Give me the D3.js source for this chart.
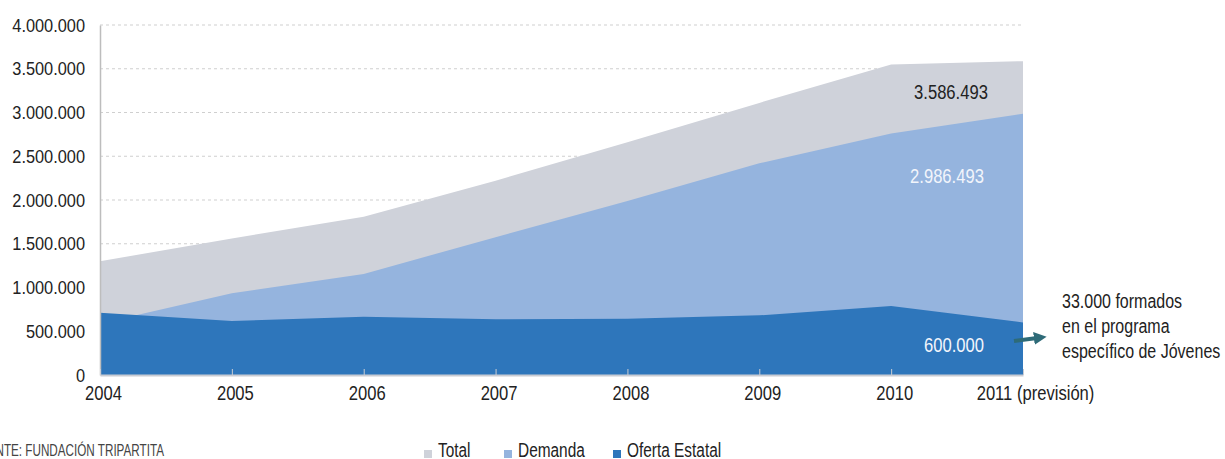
<!DOCTYPE html>
<html>
<head>
<meta charset="utf-8">
<script src="https://cdn.jsdelivr.net/npm/d3@7"></script>
<style>
  html, body { margin: 0; padding: 0; background: #fff; }
  svg { display: block; }
  text { font-family: "Liberation Sans", Arial, sans-serif; }
</style>
</head>
<body>
<svg id="chart" width="1225" height="459"></svg>
<script>
// ---- data ----
const years = ["2004", "2005", "2006", "2007", "2008", "2009", "2010", "2011 (previsión)"];
const total   = [1300000, 1560000, 1810000, 2220000, 2660000, 3110000, 3550000, 3586493];
const demanda = [590000, 935000, 1155000, 1575000, 1990000, 2420000, 2760000, 2986493];
const oferta  = [712000, 617000, 666000, 636000, 643000, 682000, 789000, 600000];
const yTicks  = [0, 500000, 1000000, 1500000, 2000000, 2500000, 3000000, 3500000, 4000000];
const seriesNames = ["Total", "Demanda", "Oferta Estatal"];
const annotationLines = ["33.000 formados", "en el programa", "específico de Jóvenes"];
const sourceText = "FUENTE: FUNDACIÓN TRIPARTITA";

// ---- setup ----
const colors = { "Total": "#CFD2DA", "Demanda": "#95B4DE", "Oferta Estatal": "#2E76BB" };
const svg = d3.select("#chart");
const x0 = 100, x1 = 1023, yTop = 25, yBot = 375;

const x = d3.scalePoint().domain(years).range([x0, x1]);
const y = d3.scaleLinear().domain([0, 4000000]).range([yBot, yTop]);

const fmt = v => d3.format(",")(v).replace(/,/g, ".");

// condense text horizontally (reference uses a condensed face)
function squeeze(sel, f) {
  sel.each(function () {
    const w = this.getComputedTextLength();
    this.setAttribute("textLength", (w * f).toFixed(1));
    this.setAttribute("lengthAdjust", "spacingAndGlyphs");
  });
}

// gridlines
svg.append("g").selectAll("line").data(yTicks.filter(d => d > 0)).join("line")
  .attr("x1", x0).attr("x2", x1)
  .attr("y1", d => y(d)).attr("y2", d => y(d))
  .attr("stroke", "#cfcfcf").attr("stroke-width", 1).attr("stroke-dasharray", "3,3");

// areas (overlapping, not stacked)
const area = arr => d3.area()
  .x((d, i) => x(years[i]))
  .y0(y(0))
  .y1(d => y(d))(arr);

svg.append("path").attr("d", area(total)).attr("fill", colors["Total"]);
svg.append("path").attr("d", area(demanda)).attr("fill", colors["Demanda"]);
svg.append("path").attr("d", area(oferta)).attr("fill", colors["Oferta Estatal"]);

// y axis
const yAxis = svg.append("g").attr("transform", `translate(${x0},0)`)
  .call(d3.axisLeft(y).tickValues(yTicks).tickFormat(fmt).tickSize(0).tickPadding(15));
yAxis.select(".domain").attr("stroke", "#bdbdbd").attr("stroke-width", 1.5);
yAxis.selectAll("text").attr("font-size", 19).attr("fill", "#222").call(squeeze, 0.86);

// x axis
const xAxis = svg.append("g").attr("transform", `translate(0,${yBot})`)
  .call(d3.axisBottom(x).tickSize(-6).tickPadding(10).tickSizeOuter(0));
xAxis.select(".domain").attr("stroke", "#c9ccd3").attr("stroke-width", 2);
xAxis.selectAll(".tick line").attr("stroke", "#c9ccd3");
xAxis.selectAll("text").attr("font-size", 21).attr("fill", "#222")
  .attr("dx", (d, i) => i === years.length - 1 ? 12 : 3)
  .call(squeeze, 0.79);

// value labels
const last = years.length - 1;
svg.append("text").attr("x", x(years[last]) - 72).attr("y", 99)
  .attr("text-anchor", "middle").attr("font-size", 20).attr("fill", "#222")
  .text(fmt(total[last])).call(squeeze, 0.83);
svg.append("text").attr("x", x(years[last]) - 76).attr("y", 183)
  .attr("text-anchor", "middle").attr("font-size", 20).attr("fill", "#f2f5fb")
  .text(fmt(demanda[last])).call(squeeze, 0.83);
svg.append("text").attr("x", x(years[last]) - 69).attr("y", 352)
  .attr("text-anchor", "middle").attr("font-size", 20).attr("fill", "#f2f5fb")
  .text(fmt(oferta[last])).call(squeeze, 0.83);

// arrow
const defs = svg.append("defs");
defs.append("marker").attr("id", "ah").attr("viewBox", "0 0 10 10")
  .attr("refX", 4).attr("refY", 5).attr("markerWidth", 3.2).attr("markerHeight", 3.2)
  .attr("orient", "auto")
  .append("path").attr("d", "M0,0 L10,5 L0,10 z").attr("fill", "#2E6B78");
svg.append("line").attr("x1", 1014).attr("y1", 341).attr("x2", 1039).attr("y2", 337.8)
  .attr("stroke", "#2E6B78").attr("stroke-width", 4).attr("marker-end", "url(#ah)");

// annotation
svg.append("g").selectAll("text").data(annotationLines).join("text")
  .attr("x", 1062).attr("y", (d, i) => 308 + i * 25)
  .attr("font-size", 20).attr("fill", "#222").text(d => d)
  .call(squeeze, 0.80);

// source
svg.append("text").attr("x", 164).attr("y", 456).attr("text-anchor", "end")
  .attr("font-size", 16).attr("fill", "#444").text(sourceText)
  .call(squeeze, 0.73);

// legend
const legendX = [424, 504, 613];
const lg = svg.append("g").selectAll("g").data(seriesNames).join("g")
  .attr("transform", (d, i) => `translate(${legendX[i]},0)`);
lg.append("rect").attr("x", 0).attr("y", 450).attr("width", 8).attr("height", 8)
  .attr("fill", d => colors[d]);
lg.append("text").attr("x", 14).attr("y", 457).attr("font-size", 20).attr("fill", "#222")
  .text(d => d).call(squeeze, 0.77);
</script>
</body>
</html>
